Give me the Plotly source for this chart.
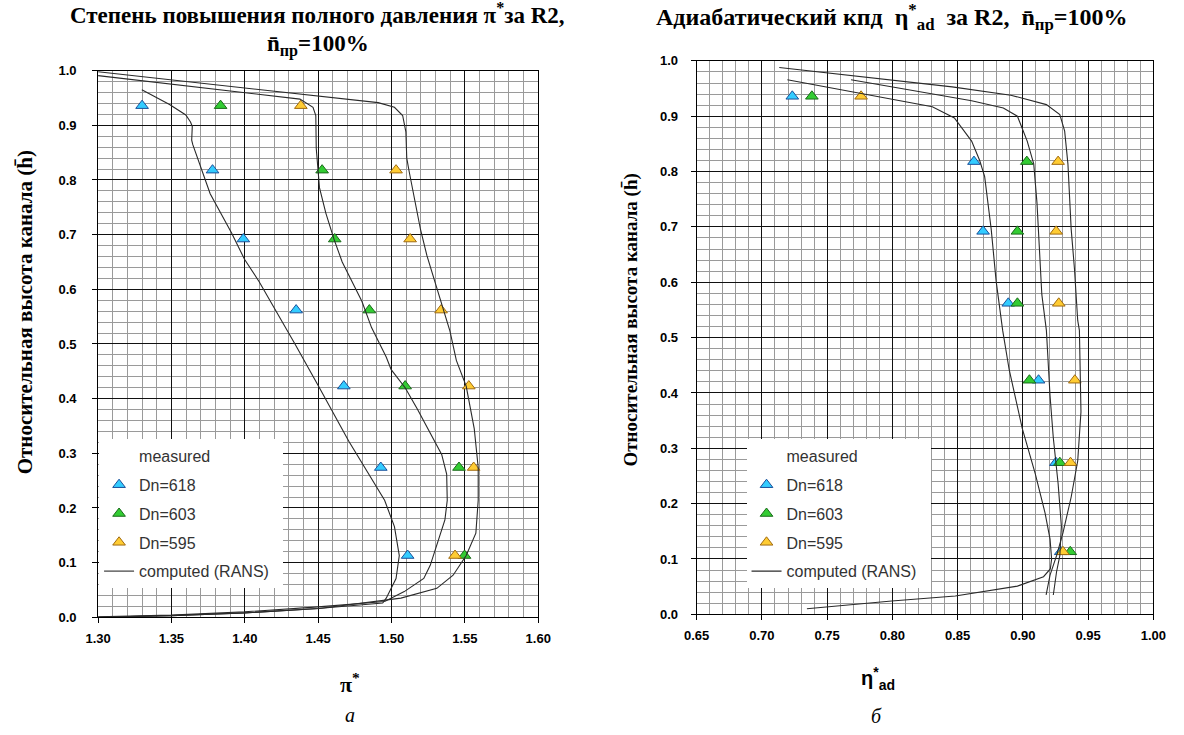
import plotly.graph_objects as go

W, H = 1184, 735

# ---------------- data: left chart (pi*) ----------------
h_meas = [0.936, 0.818, 0.692, 0.562, 0.423, 0.274, 0.113]
pi_618 = [1.330, 1.378, 1.399, 1.435, 1.4675, 1.4927, 1.511]
pi_603 = [1.3835, 1.4527, 1.4613, 1.4849, 1.5093, 1.546, 1.5498]
pi_595 = [1.4382, 1.5031, 1.5127, 1.5338, 1.5527, 1.556, 1.5433]

rans_pi_618_x = [1.3298, 1.3487, 1.3598, 1.3630, 1.3642, 1.3638, 1.3645, 1.3709, 1.3764, 1.3910,
                 1.3998, 1.4098, 1.4242, 1.4342, 1.4502, 1.4709, 1.4953, 1.5020, 1.5053, 1.5031,
                 1.4964, 1.4940, 1.4500, 1.4000, 1.3500, 1.3000]
rans_pi_618_y = [0.965, 0.938, 0.919, 0.906, 0.898, 0.873, 0.865, 0.816, 0.775, 0.703,
                 0.655, 0.614, 0.548, 0.500, 0.423, 0.322, 0.214, 0.166, 0.113, 0.071,
                 0.035, 0.026, 0.016, 0.008, 0.003, 0.000]
rans_pi_603_x = [1.3000, 1.4376, 1.4465, 1.4484, 1.4487, 1.4502, 1.4509, 1.4553, 1.4609, 1.4664,
                 1.4798, 1.4864, 1.4964, 1.4998, 1.5093, 1.5176, 1.5342, 1.5376, 1.5380, 1.5364,
                 1.5309, 1.5264, 1.5220, 1.5087, 1.4953, 1.4500, 1.4000, 1.3500, 1.3000]
rans_pi_603_y = [0.991, 0.948, 0.933, 0.918, 0.858, 0.816, 0.786, 0.739, 0.691, 0.650,
                 0.578, 0.530, 0.476, 0.453, 0.420, 0.381, 0.298, 0.262, 0.214, 0.178,
                 0.131, 0.095, 0.071, 0.047, 0.029, 0.019, 0.010, 0.004, 0.001]
rans_pi_595_x = [1.3000, 1.4909, 1.5020, 1.5076, 1.5098, 1.5104, 1.5120, 1.5153, 1.5198, 1.5242,
                 1.5309, 1.5353, 1.5398, 1.5442, 1.5509, 1.5564, 1.5591, 1.5591, 1.5575, 1.5509,
                 1.5420, 1.5309, 1.5064, 1.4507, 1.4000, 1.3500, 1.3000]
rans_pi_595_y = [0.998, 0.9415, 0.933, 0.918, 0.888, 0.840, 0.816, 0.769, 0.709, 0.661,
                 0.602, 0.560, 0.524, 0.470, 0.423, 0.345, 0.274, 0.214, 0.154, 0.113,
                 0.077, 0.053, 0.035, 0.016, 0.008, 0.003, 0.000]

# ---------------- data: right chart (eta*_ad) ----------------
eta_618 = [0.7233, 0.8625, 0.8695, 0.8888, 0.912, 0.9253, 0.929]
eta_603 = [0.7383, 0.903, 0.8958, 0.8958, 0.905, 0.9283, 0.9363]
eta_595 = [0.776, 0.927, 0.9255, 0.9275, 0.9398, 0.9365, 0.9307]

rans_eta_618_x = [0.7195, 0.8306, 0.8475, 0.8607, 0.8669, 0.8707, 0.8757, 0.8795, 0.8845, 0.8895,
                  0.8995, 0.9095, 0.9170, 0.9208, 0.9220, 0.9210, 0.9158, 0.8958, 0.8482, 0.7995,
                  0.7345]
rans_eta_618_y = [0.966, 0.917, 0.897, 0.855, 0.820, 0.791, 0.696, 0.602, 0.513, 0.442,
                  0.336, 0.254, 0.183, 0.136, 0.100, 0.082, 0.068, 0.051, 0.033, 0.024,
                  0.010]
rans_eta_603_x = [0.7683, 0.8607, 0.8850, 0.8958, 0.9033, 0.9083, 0.9108, 0.9120, 0.9145, 0.9180,
                  0.9208, 0.9233, 0.9270, 0.9295, 0.9283, 0.9258, 0.9233]
rans_eta_603_y = [0.966, 0.928, 0.915, 0.900, 0.855, 0.814, 0.743, 0.696, 0.578, 0.513,
                  0.395, 0.319, 0.236, 0.159, 0.106, 0.077, 0.035]
rans_eta_595_x = [0.7133, 0.8458, 0.8908, 0.9180, 0.9283, 0.9320, 0.9345, 0.9370, 0.9395, 0.9420,
                  0.9433, 0.9445, 0.9420, 0.9370, 0.9307, 0.9258, 0.9208, 0.9178]
rans_eta_595_y = [0.988, 0.953, 0.938, 0.921, 0.903, 0.873, 0.814, 0.696, 0.625, 0.531,
                  0.513, 0.366, 0.277, 0.212, 0.147, 0.106, 0.071, 0.035]

series_names = ["Dn=618", "Dn=603", "Dn=595"]
fill_colors = ["#33CCFF", "#33CC33", "#FFCC33"]
edge_colors = ["#1a4f9a", "#1a6a1a", "#a06a10"]

fig = go.Figure()

def add_panel(xa, ya, legend_name, xs_meas, rans):
    # legend header
    fig.add_trace(go.Scatter(x=[None], y=[None], mode="markers", name="measured",
                             marker=dict(color="rgba(0,0,0,0)", size=1, line=dict(width=0)),
                             xaxis=xa, yaxis=ya, legend=legend_name, legendgroup=legend_name + "h"))
    for i, xs in enumerate(xs_meas):
        fig.add_trace(go.Scatter(x=xs, y=h_meas, mode="markers", name=series_names[i],
                                 marker=dict(symbol="triangle-up", size=11, color=fill_colors[i],
                                             line=dict(color=edge_colors[i], width=1)),
                                 xaxis=xa, yaxis=ya, legend=legend_name,
                                 legendgroup=legend_name + str(i)))
    for j, (rx, ry) in enumerate(rans):
        fig.add_trace(go.Scatter(x=rx, y=ry, mode="lines",
                                 name="computed (RANS)\u00a0\u00a0",
                                 line=dict(color="#2a2a2a", width=1.1),
                                 showlegend=(j == 0), xaxis=xa, yaxis=ya, legend=legend_name,
                                 legendgroup=legend_name + "r"))

add_panel("x", "y", "legend", [pi_618, pi_603, pi_595],
          [(rans_pi_618_x, rans_pi_618_y), (rans_pi_603_x, rans_pi_603_y),
           (rans_pi_595_x, rans_pi_595_y)])
add_panel("x2", "y2", "legend2", [eta_618, eta_603, eta_595],
          [(rans_eta_618_x, rans_eta_618_y), (rans_eta_603_x, rans_eta_603_y),
           (rans_eta_595_x, rans_eta_595_y)])

tickfont = dict(family="Liberation Sans, Arial", size=13, color="black", weight="bold")

def xaxis_cfg(dom, rng, minor_dt):
    return dict(domain=dom, range=rng, dtick=0.05, tick0=rng[0], tickformat=".2f",
                showgrid=True, gridcolor="#111", gridwidth=1, zeroline=False,
                showline=True, linecolor="black", linewidth=1, mirror=True,
                ticks="outside", ticklen=5, tickcolor="black", tickfont=tickfont,
                ticklabelstandoff=4,
                minor=dict(dtick=minor_dt, showgrid=True, gridcolor="#9a9a9a", gridwidth=1.3,
                           ticks=""))

def yaxis_cfg(dom, anchor, standoff):
    return dict(domain=dom, range=[0, 1], dtick=0.1, tickformat=".1f", anchor=anchor,
                showgrid=True, gridcolor="#111", gridwidth=1, zeroline=False,
                showline=True, linecolor="black", linewidth=1, mirror=True,
                ticks="outside", ticklen=5, tickcolor="black", tickfont=tickfont,
                ticklabelstandoff=standoff,
                minor=dict(dtick=0.02, showgrid=True, gridcolor="#9a9a9a", gridwidth=1.3,
                           ticks=""))

legend_common = dict(xanchor="left", yanchor="top", bgcolor="white", borderwidth=0,
                     font=dict(family="Liberation Sans, Arial", size=16, color="#333"),
                     traceorder="grouped", tracegroupgap=5, itemwidth=30)

fig.update_layout(
    width=W, height=H, margin=dict(l=0, r=0, t=0, b=0),
    paper_bgcolor="white", plot_bgcolor="white", showlegend=True,
    xaxis=xaxis_cfg([87 / W, 537 / W], [1.30, 1.60], 0.01) | dict(anchor="y"),
    yaxis=yaxis_cfg([(H - 623) / H, (H - 65) / H], "x", 13),
    xaxis2=xaxis_cfg([699 / W, 1166 / W], [0.65, 1.00], 0.01) | dict(anchor="y2"),
    yaxis2=yaxis_cfg([(H - 620) / H, (H - 55) / H], "x2", 10),
    legend=dict(x=88 / W, y=(H - 441) / H, **legend_common),
    legend2=dict(x=750 / W, y=(H - 441) / H, **legend_common),
)

serif_b = dict(family="Liberation Serif, Times New Roman", color="black")

def ann(text, x, y, size, angle=0, family=None, italic=False):
    f = dict(serif_b, size=size)
    if family:
        f["family"] = family
    if italic:
        f["style"] = "italic"
    fig.add_annotation(text=text, x=x / W, y=(H - y) / H, xref="paper", yref="paper",
                       showarrow=False, xanchor="center", yanchor="middle",
                       textangle=angle, font=f)

ann("<b>Степень повышения полного давления π<sup>*</sup>за R2,</b>", 311, 7, 23)
ann("<b>n\u0304<sub>пр</sub>=100%</b>", 312, 39, 23)
ann("<b>Адиабатический кпд\u00a0 η<sup>*</sup><sub>ad</sub>\u00a0 за R2,\u00a0 n\u0304<sub>пр</sub>=100%</b>",
    899, 10, 24)
ann("<b>Относительная высота канала (h\u0304)</b>", 12, 312, 21, angle=-90)
ann("<b>Относительная высота канала (h\u0304)</b>", 632, 320, 19, angle=-90)
ann("<b>π<sup>*</sup></b>", 345, 690, 22)
ann("<b>η<sup>*</sup><sub>ad</sub></b>", 884, 685, 20, family="Liberation Sans, Arial")
ann("а", 345, 723, 20, italic=True)
ann("б", 883, 724, 20, italic=True)

fig.write_html("out.html")
